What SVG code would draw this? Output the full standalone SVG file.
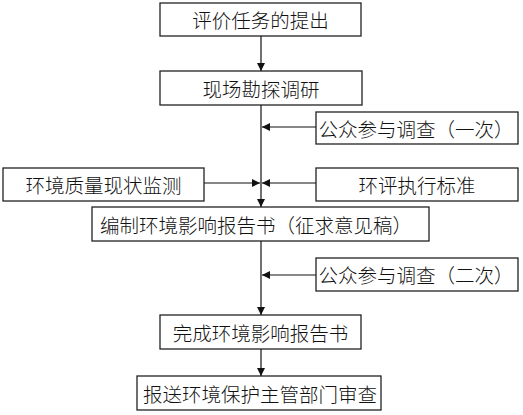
<svg xmlns="http://www.w3.org/2000/svg" width="523" height="415" viewBox="0 0 523 415">
<style>
rect.box{fill:#fff;stroke:#222;stroke-width:1.3}
text{font-family:"Noto Sans CJK SC","Noto Sans CJK JP",sans-serif;font-size:19.5px;font-weight:300;fill:#111;text-anchor:middle;dominant-baseline:central}
.c line,.c path{stroke:#111;stroke-width:1.2;fill:none}
</style>
<defs>
<marker id="ah" viewBox="0 0 10 10" refX="10" refY="5" markerWidth="8" markerHeight="8" markerUnits="userSpaceOnUse" orient="auto">
<path d="M0,0 L10,5 L0,10 Z" fill="#111"/>
</marker>
</defs>
<rect width="523" height="415" fill="#fff"/>
<g class="c">
<line x1="261" y1="36" x2="261" y2="71" marker-end="url(#ah)"/>
<line x1="261" y1="105" x2="261" y2="207" marker-end="url(#ah)"/>
<line x1="316" y1="127" x2="262" y2="127" marker-end="url(#ah)"/>
<line x1="204" y1="183" x2="260" y2="183" marker-end="url(#ah)"/>
<line x1="316" y1="183" x2="262" y2="183" marker-end="url(#ah)"/>
<line x1="261" y1="241" x2="261" y2="315" marker-end="url(#ah)"/>
<line x1="316" y1="275" x2="262" y2="275" marker-end="url(#ah)"/>
<line x1="261" y1="349" x2="261" y2="376" marker-end="url(#ah)"/>
</g>
<g id="n1"><rect class="box" x="160" y="3" width="201" height="33"/><text x="260.5" y="19.5">评价任务的提出</text></g>
<g id="n2"><rect class="box" x="160" y="71" width="202" height="34"/><text x="261" y="88">现场勘探调研</text></g>
<g id="n3"><rect class="box" x="316" y="112" width="202" height="32"/><text x="416" y="128">公众参与调查（一次）</text></g>
<g id="n4"><rect class="box" x="3" y="168" width="201" height="33"/><text x="103.5" y="184.5">环境质量现状监测</text></g>
<g id="n5"><rect class="box" x="316" y="168" width="202" height="33"/><text x="417" y="184.5">环评执行标准</text></g>
<g id="n6"><rect class="box" x="92" y="207" width="337" height="34"/><text x="256" y="224">编制环境影响报告书（征求意见稿）</text></g>
<g id="n7"><rect class="box" x="316" y="258" width="202" height="33"/><text x="416" y="274.5">公众参与调查（二次）</text></g>
<g id="n8"><rect class="box" x="160" y="315" width="201" height="34"/><text x="260.5" y="332">完成环境影响报告书</text></g>
<g id="n9"><rect class="box" x="137" y="376" width="244" height="34"/><text x="260" y="393">报送环境保护主管部门审查</text></g>
</svg>
